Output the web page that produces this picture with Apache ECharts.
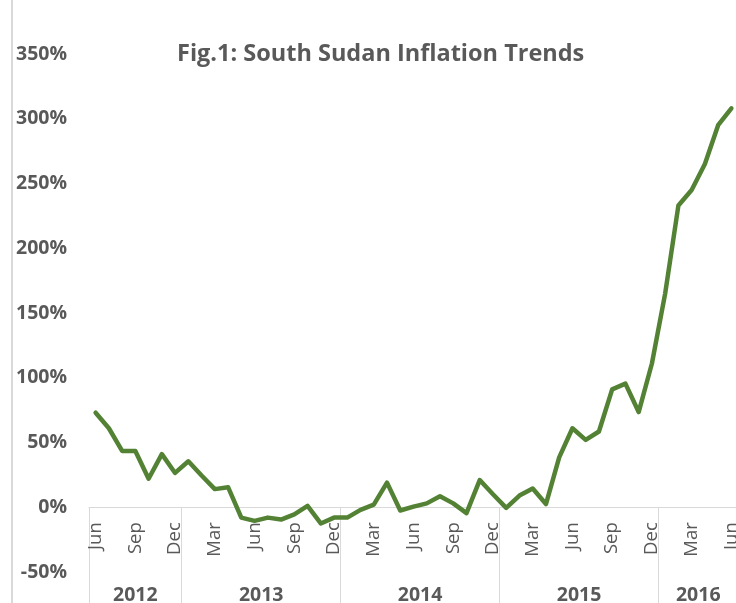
<!DOCTYPE html>
<html>
<head>
<meta charset="utf-8">
<script src="https://cdn.jsdelivr.net/npm/echarts@6/dist/echarts.min.js"></script>
<style>
  html, body { margin: 0; padding: 0; background: #ffffff; }
  #chart { width: 736px; height: 603px; }
</style>
</head>
<body>
<div id="chart"></div>
<script>
// ---- Data ----
const categories = [
  'Jun 2012','Jul 2012','Aug 2012','Sep 2012','Oct 2012','Nov 2012','Dec 2012',
  'Jan 2013','Feb 2013','Mar 2013','Apr 2013','May 2013','Jun 2013','Jul 2013','Aug 2013','Sep 2013','Oct 2013','Nov 2013','Dec 2013',
  'Jan 2014','Feb 2014','Mar 2014','Apr 2014','May 2014','Jun 2014','Jul 2014','Aug 2014','Sep 2014','Oct 2014','Nov 2014','Dec 2014',
  'Jan 2015','Feb 2015','Mar 2015','Apr 2015','May 2015','Jun 2015','Jul 2015','Aug 2015','Sep 2015','Oct 2015','Nov 2015','Dec 2015',
  'Jan 2016','Feb 2016','Mar 2016','Apr 2016','May 2016','Jun 2016'
];
const inflation = [
  73, 61, 43.5, 43.5, 22, 41, 26.5,
  35.5, 24.5, 14, 15.5, -8, -10.5, -8, -9.5, -5.5, 1, -12.5, -8,
  -8, -2, 2, 19, -2.5, 0.5, 3, 8.5, 3, -4.5, 21, 10,
  -0.5, 9, 14.5, 2.5, 38.5, 61, 52, 58.5, 91, 95.5, 73.5, 111,
  165, 233, 245, 265, 295, 308
];
const yMin = -50;
const yMax = 350;
const yStep = 50;
const titleText = 'Fig.1: South Sudan Inflation Trends';

// ---- Derived helpers ----
const yearOf = categories.map(c => c.split(' ')[1]);

const FONT = '"Open Sans"';
const TEXT = '#595959';
const GRIDC = '#d9d9d9';
const GRID_LEFT = 89, GRID_RIGHT = -2, GRID_TOP = 54, GRID_BOTTOM = 31;

const chart = echarts.init(document.getElementById('chart'), null, { renderer: 'canvas' });
const bandW = (chart.getWidth() - GRID_LEFT - GRID_RIGHT) / categories.length;
const plotH = chart.getHeight() - GRID_TOP - GRID_BOTTOM;
// category axis sits on the 0% line
const zeroOffset = -((0 - yMin) / (yMax - yMin)) * plotH;

// year groups: label placed at the centre of each group
const yearLabelIdx = {};
const yearShift = {};
(function () {
  let start = 0;
  for (let i = 1; i <= categories.length; i++) {
    if (i === categories.length || yearOf[i] !== yearOf[start]) {
      const mid = (start + i - 1) / 2;
      const idx = Math.floor(mid);
      yearLabelIdx[idx] = yearOf[start];
      yearShift[idx] = (mid - idx) > 0;
      start = i;
    }
  }
})();

const option = {
  animation: false,
  backgroundColor: '#ffffff',
  textStyle: { fontFamily: FONT },
  title: {
    text: titleText,
    left: 172,
    top: 37,
    textStyle: { fontFamily: FONT, fontSize: 23.5, fontWeight: 'bold', color: TEXT }
  },
  grid: {
    left: GRID_LEFT, right: GRID_RIGHT, top: GRID_TOP, bottom: GRID_BOTTOM,
    containLabel: false, outerBoundsMode: 'none'
  },
  xAxis: [
    {
      type: 'category',
      position: 'bottom',
      offset: zeroOffset,
      data: categories,
      boundaryGap: true,
      axisLine: { show: true, onZero: false, lineStyle: { color: GRIDC, width: 1 } },
      axisTick: { show: false },
      splitLine: { show: false },
      axisLabel: {
        interval: 2,
        rotate: 90,
        margin: 15,
        fontFamily: FONT,
        fontSize: 18.5,
        color: TEXT,
        formatter: (v) => v.split(' ')[0]
      }
    },
    {
      type: 'category',
      position: 'bottom',
      offset: zeroOffset,
      data: categories,
      boundaryGap: true,
      axisLine: { show: false, onZero: false },
      axisTick: {
        show: true,
        length: 100,
        interval: (index) => index === 0 || yearOf[index] !== yearOf[index - 1],
        lineStyle: { color: GRIDC, width: 1 }
      },
      splitLine: { show: false },
      axisLabel: {
        interval: (index) => yearLabelIdx[index] !== undefined,
        margin: 78,
        fontFamily: FONT,
        fontSize: 19.5,
        fontWeight: 'bold',
        color: TEXT,
        formatter: (v, i) => {
          const y = v.split(' ')[1];
          return yearShift[i] ? '{s|' + y + '}' : '{n|' + y + '}';
        },
        rich: {
          n: { fontFamily: FONT, fontSize: 19.5, fontWeight: 'bold', color: TEXT },
          s: { fontFamily: FONT, fontSize: 19.5, fontWeight: 'bold', color: TEXT, padding: [0, 0, 0, bandW] }
        }
      }
    }
  ],
  yAxis: {
    type: 'value',
    min: yMin,
    max: yMax,
    interval: yStep,
    axisLine: { show: false },
    axisTick: { show: false },
    splitLine: { show: false },
    axisLabel: {
      margin: 22,
      fontFamily: FONT,
      fontSize: 19.5,
      fontWeight: 'bold',
      color: TEXT,
      formatter: '{value}%'
    }
  },
  graphic: [
    {
      type: 'line',
      shape: { x1: 12, y1: 0, x2: 12, y2: 603 },
      style: { stroke: GRIDC, lineWidth: 2 },
      silent: true
    }
  ],
  series: [
    {
      type: 'line',
      xAxisIndex: 0,
      data: inflation,
      showSymbol: false,
      symbol: 'none',
      smooth: false,
      lineStyle: { color: '#548235', width: 4.5, cap: 'round', join: 'round' },
      z: 5
    }
  ]
};
chart.setOption(option);
</script>
</body>
</html>
